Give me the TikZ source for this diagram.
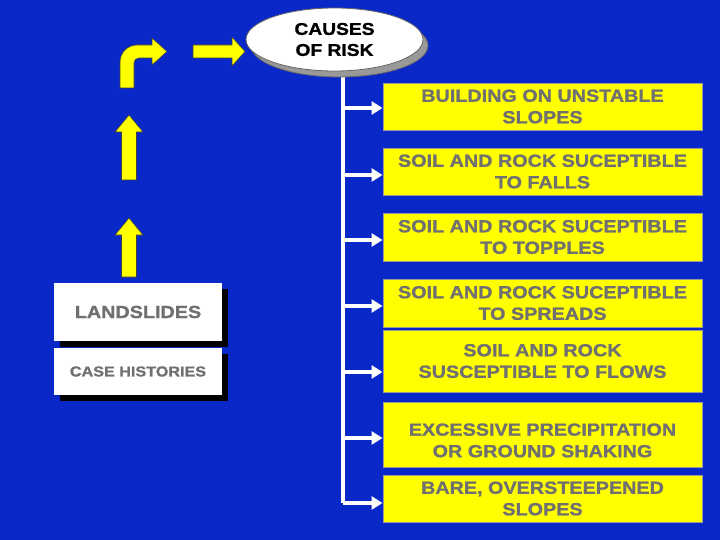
\documentclass[tikz,border=0pt]{standalone}
\usepackage{fontspec}
\setmainfont{Liberation Sans}
\newfontfamily\wfont[FakeStretch=1.13,FakeBold=1.2]{Liberation Sans Bold}
\usetikzlibrary{arrows.meta,shapes.geometric,shadows}
\definecolor{bg}{RGB}{10,40,200}
\definecolor{txtgray}{RGB}{112,112,112}
\definecolor{ylw}{RGB}{255,255,0}
\begin{document}
\begin{tikzpicture}[x=1pt,y=-1pt,
  cause/.style={draw=gray!80, line width=0.9pt, fill=ylw, minimum width=319pt,
    align=center, text=txtgray, inner sep=0pt,
    font=\wfont\fontsize{17.5}{21.5}\selectfont},
  whitebox/.style={fill=white, minimum width=168pt, inner sep=0pt, text=txtgray,
    drop shadow={shadow xshift=6pt, shadow yshift=-6pt, fill=black, opacity=1}},
  wline/.style={draw=white, line width=3.5pt},
  warrow/.style={wline, -{Triangle[length=11pt,width=13pt]}},
  yarrow/.style={fill=ylw, draw=black!75, line width=0.6pt, line join=miter}
]
\fill[bg] (0,0) rectangle (720,540);

% cause boxes
\node[cause, minimum height=47pt] (b1) at (542.5,106.5) {BUILDING ON UNSTABLE\\SLOPES};
\node[cause, minimum height=47pt] (b2) at (542.5,171.5) {SOIL AND ROCK SUCEPTIBLE\\TO FALLS};
\node[cause, minimum height=48pt] (b3) at (542.5,237) {SOIL AND ROCK SUCEPTIBLE\\TO TOPPLES};
\node[cause, minimum height=48pt] (b4) at (542.5,303) {SOIL AND ROCK SUCEPTIBLE\\TO SPREADS};
\node[cause, minimum height=62pt] (b5) at (542.5,361) {SOIL AND ROCK\\SUSCEPTIBLE TO FLOWS};
\node[cause, minimum height=65pt] (b6) at (542.5,434.5) {\rule{0pt}{24pt}EXCESSIVE PRECIPITATION\\OR GROUND SHAKING};
\node[cause, minimum height=47pt] (b7) at (542.5,498.5) {BARE, OVERSTEEPENED\\SLOPES};

% trunk and branches
\coordinate (t0) at (343,60);
\coordinate (t1) at (343,108);
\coordinate (t2) at (343,175);
\coordinate (t3) at (343,240);
\coordinate (t4) at (343,306);
\coordinate (t5) at (343,372);
\coordinate (t6) at (343,438);
\coordinate (t7) at (343,503);
\draw[wline] (t0) -- (t7);
\foreach \i in {1,...,7} {\draw[warrow] (t\i) -- (t\i -| b\i.west);}

% ellipse
\node[ellipse, draw=black!60, line width=0.8pt, fill=white, minimum width=177pt, minimum height=63pt,
  inner sep=0pt, align=center, font=\wfont\fontsize{17}{21}\selectfont,
  drop shadow={shadow xshift=5pt, shadow yshift=-6pt, fill=gray!80, opacity=1, draw=black!60}]
  (risk) at (334.5,39.5) {CAUSES\\OF RISK};

% left boxes
\node[whitebox, minimum height=58pt, font=\wfont\fontsize{17.5}{20}\selectfont] (land) at (138,312) {LANDSLIDES};
\node[whitebox, minimum height=47pt, font=\wfont\fontsize{14.3}{17}\selectfont] (case) at (138,371.5) {CASE HISTORIES};

% yellow arrows
\draw[yarrow] (129,218) -- (143,235) -- (136.5,235) -- (136.5,277) -- (121.5,277) -- (121.5,235) -- (115,235) -- cycle;
\draw[yarrow] (129,115) -- (143,132) -- (136.5,132) -- (136.5,180) -- (121.5,180) -- (121.5,132) -- (115,132) -- cycle;
\draw[yarrow] (120,88) -- (120,62) .. controls (120,52.6) and (127.6,45) .. (137,45) -- (152,45) -- (152,38)
  -- (167,51.5) -- (152,65) -- (152,58) -- (139,58) .. controls (136,58) and (134,60) .. (134,63) -- (134,88) -- cycle;
\draw[yarrow] (193,45) -- (232,45) -- (232,37) -- (245,51.5) -- (232,66) -- (232,58) -- (193,58) -- cycle;
\end{tikzpicture}
\end{document}
